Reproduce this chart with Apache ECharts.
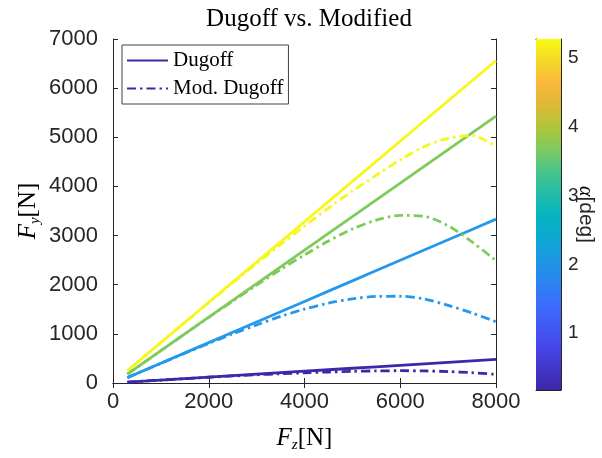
<!DOCTYPE html>
<html>
<head>
<meta charset="utf-8">
<script src="https://cdn.jsdelivr.net/npm/echarts@6/dist/echarts.min.js"></script>
<style>
  html, body { margin: 0; padding: 0; background: #fff; }
  #chart { width: 602px; height: 458px; }
</style>
</head>
<body>
<div id="chart"></div>
<script>
// Vertical load Fz [N]
const fz = [300, 1000, 1500, 2000, 2500, 3000, 3500, 4000, 4500, 5000, 5500, 6000, 6500, 7000, 7500, 8000];

// Lateral force Fy [N], standard Dugoff model, one curve per slip angle
const dugoffA1 = [18, 60, 90, 120, 150, 180, 210, 240, 270, 300, 330, 360, 390, 420, 450, 480];
const dugoffA2 = [110, 403, 613, 822, 1031, 1241, 1450, 1660, 1869, 2078, 2288, 2497, 2706, 2916, 3125, 3335];
const dugoffA3 = [180, 657, 998, 1339, 1680, 2021, 2362, 2703, 3044, 3384, 3725, 4066, 4407, 4748, 5089, 5430];
const dugoffA4 = [250, 824, 1233, 1643, 2053, 2463, 2872, 3282, 3692, 4102, 4511, 4921, 5331, 5741, 6150, 6560];

// Lateral force Fy [N], modified Dugoff model
const modA1 = [18, 60, 89, 117, 143, 167, 189, 208, 224, 237, 246, 250, 246, 233, 210, 175];
const modA2 = [110, 400, 605, 805, 1000, 1180, 1355, 1505, 1625, 1712, 1762, 1765, 1710, 1580, 1425, 1245];
const modA3 = [180, 657, 998, 1335, 1665, 1990, 2310, 2605, 2890, 3135, 3315, 3410, 3390, 3200, 2870, 2490];
const modA4 = [250, 824, 1230, 1635, 2035, 2430, 2815, 3195, 3560, 3905, 4230, 4540, 4810, 4980, 5035, 4810];

// Axis ticks
const xTicks = [0, 2000, 4000, 6000, 8000];
const yTicks = [0, 1000, 2000, 3000, 4000, 5000, 6000, 7000];
const cbTicks = [1, 2, 3, 4, 5];
const cbRange = [0.17, 5.28];

const lineColors = ['#3d28a9', '#2698ec', '#7ecb5a', '#f7f71c'];
const parula = [
  [0.0, '#3e26a8'], [0.125, '#4747eb'], [0.25, '#3a6ffd'], [0.3125, '#2a86f0'],
  [0.375, '#1c98e0'], [0.4375, '#0da9d0'], [0.5, '#05b5bf'], [0.5625, '#24bca6'],
  [0.625, '#4cc589'], [0.6875, '#80ca5e'], [0.75, '#b1c53a'], [0.8125, '#deb936'],
  [0.875, '#fbb73c'], [0.9375, '#f4d82a'], [1.0, '#f9fb15']
];

const axisColor = '#262626';
const sans = 'Liberation Sans, Arial, sans-serif';
const serif = 'Liberation Serif, Times New Roman, serif';

const solids = [dugoffA1, dugoffA2, dugoffA3, dugoffA4];
const dashed = [modA1, modA2, modA3, modA4];
const pairs = arr => fz.map((x, i) => [x, arr[i]]);
const plain = v => String(Math.round(v * 100) / 100);

const series = [];
solids.forEach((s, k) => {
  series.push({
    name: k === 0 ? 'Dugoff' : 'Dugoff ' + k,
    type: 'line', xAxisIndex: 0, yAxisIndex: 0,
    data: pairs(s), symbol: 'none', smooth: false,
    lineStyle: { color: lineColors[k], width: 2.8 },
    itemStyle: { color: lineColors[k] },
    z: 3
  });
});
dashed.forEach((s, k) => {
  series.push({
    name: k === 0 ? 'Mod. Dugoff' : 'Mod. Dugoff ' + k,
    type: 'line', xAxisIndex: 0, yAxisIndex: 0,
    data: pairs(s), symbol: 'none', smooth: 0.3,
    lineStyle: { color: lineColors[k], width: 2.8, type: [9, 4, 2.5, 4], cap: 'butt' },
    itemStyle: { color: lineColors[k] },
    z: 3
  });
});

// Colour bar, drawn as a stacked bar with a gradient fill
series.push({
  type: 'bar', xAxisIndex: 2, yAxisIndex: 2, stack: 'cb', barWidth: '100%',
  data: [cbRange[0]], itemStyle: { color: 'rgba(0,0,0,0)' }, silent: true
});
series.push({
  type: 'bar', xAxisIndex: 2, yAxisIndex: 2, stack: 'cb', barWidth: '100%',
  data: [cbRange[1] - cbRange[0]], silent: true,
  itemStyle: {
    color: {
      type: 'linear', x: 0, y: 1, x2: 0, y2: 0,
      colorStops: parula.map(([o, c]) => ({ offset: o, color: c }))
    }
  }
});

const tickInside = { show: true, inside: true, length: 5, lineStyle: { color: axisColor, width: 1 } };
const nameRich = {
  f: { fontFamily: serif, fontStyle: 'italic', fontSize: 25, color: '#000', lineHeight: 30 },
  s: { fontFamily: serif, fontStyle: 'italic', fontSize: 15, color: '#000', lineHeight: 30, verticalAlign: 'bottom' },
  n: { fontFamily: serif, fontSize: 25, color: '#000', lineHeight: 30 }
};

const option = {
  animation: false,
  backgroundColor: '#fff',
  title: {
    text: 'Dugoff vs. Modified',
    left: 304, top: 2, textAlign: 'center',
    textStyle: { fontFamily: serif, fontSize: 25, fontWeight: 'normal', color: '#000' }
  },
  legend: {
    data: ['Dugoff', 'Mod. Dugoff'],
    orient: 'vertical', left: 122, top: 45,
    itemWidth: 41, itemHeight: 12, itemGap: 7,
    padding: [5, 5, 5, 4],
    itemStyle: { opacity: 0 },
    borderColor: '#404040', borderWidth: 1, backgroundColor: '#fff',
    textStyle: { fontFamily: serif, fontSize: 21, color: '#000' }
  },
  grid: [
    { left: 113, top: 39, width: 383, height: 351, show: false },
    { left: 536, top: 39, width: 25, height: 351, show: false }
  ],
  xAxis: [
    {
      type: 'value', gridIndex: 0, min: 0, max: 8000, interval: 2000,
      axisLine: { show: true, lineStyle: { color: axisColor } },
      axisTick: tickInside,
      splitLine: { show: false },
      axisLabel: { fontFamily: sans, fontSize: 22, color: axisColor, margin: 8,
        customValues: xTicks, formatter: plain },
      name: '{f|F}{s|z}{n|[N]}', nameLocation: 'middle', nameGap: 40,
      nameTextStyle: { rich: nameRich }
    },
    {
      type: 'value', gridIndex: 0, min: 0, max: 8000, interval: 2000, position: 'top',
      axisLine: { show: true, lineStyle: { color: axisColor } },
      axisTick: tickInside, axisLabel: { show: false }, splitLine: { show: false }
    },
    {
      type: 'category', gridIndex: 1, data: ['c'], boundaryGap: true,
      axisLine: { show: true, onZero: false, lineStyle: { color: axisColor } },
      axisTick: { show: false }, axisLabel: { show: false }
    },
    {
      type: 'category', gridIndex: 1, data: ['c'], position: 'top',
      axisLine: { show: true, onZero: false, lineStyle: { color: axisColor } },
      axisTick: { show: false }, axisLabel: { show: false }
    }
  ],
  yAxis: [
    {
      type: 'value', gridIndex: 0, min: 0, max: 7000, interval: 1000,
      axisLine: { show: true, onZero: false, lineStyle: { color: axisColor } },
      axisTick: tickInside,
      splitLine: { show: false },
      axisLabel: { fontFamily: sans, fontSize: 22, color: axisColor, margin: 15,
        customValues: yTicks, formatter: plain },
      name: '{f|F}{s|y}{n|[N]}', nameLocation: 'middle', nameGap: 70, nameRotate: 90,
      nameMoveOverlap: false,
      nameTextStyle: { rich: nameRich }
    },
    {
      type: 'value', gridIndex: 0, min: 0, max: 7000, interval: 1000, position: 'right',
      axisLine: { show: true, onZero: false, lineStyle: { color: axisColor } },
      axisTick: tickInside, axisLabel: { show: false }, splitLine: { show: false }
    },
    {
      type: 'value', gridIndex: 1, min: cbRange[0], max: cbRange[1], position: 'right',
      axisLine: { show: true, onZero: false, lineStyle: { color: axisColor } },
      axisTick: { show: true, inside: true, length: 4, customValues: cbTicks, lineStyle: { color: axisColor } },
      axisLabel: { fontFamily: sans, fontSize: 19, color: axisColor, margin: 7,
        customValues: cbTicks, formatter: plain },
      splitLine: { show: false },
      name: '{a|α}{b|[deg]}', nameLocation: 'middle', nameGap: 14, nameRotate: -90,
      nameMoveOverlap: false,
      nameTextStyle: {
        rich: {
          a: { fontFamily: serif, fontStyle: 'italic', fontSize: 20, color: '#000' },
          b: { fontFamily: sans, fontSize: 21, color: axisColor }
        }
      }
    },
    {
      type: 'value', gridIndex: 1, min: cbRange[0], max: cbRange[1], position: 'left',
      axisLine: { show: true, onZero: false, lineStyle: { color: axisColor } },
      axisTick: { show: false }, axisLabel: { show: false }, splitLine: { show: false }
    }
  ],
  series: series
};

const chart = echarts.init(document.getElementById('chart'), null, { renderer: 'canvas' });
chart.setOption(option);
</script>
</body>
</html>
